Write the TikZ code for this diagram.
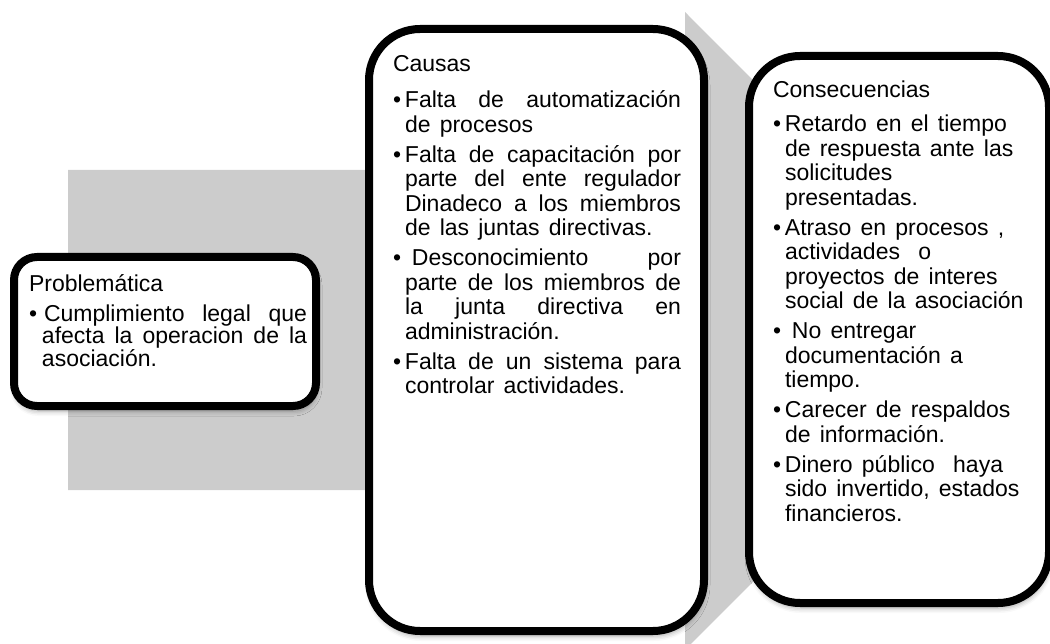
\documentclass[tikz,border=0pt]{standalone}
\usepackage{fontspec}
\setmainfont{Liberation Sans}
\usetikzlibrary{shapes,positioning,shadows.blur}
\definecolor{arrowgray}{RGB}{204,204,204}
\tikzstyle{whitebox}=[rectangle, draw, line width=8pt, fill=white, inner sep=0pt, blur shadow={shadow xshift=1pt, shadow yshift=-5pt, shadow blur radius=5pt, shadow opacity=35}]
\tikzstyle{boxtext}=[anchor=base west, inner sep=0pt, outer sep=0pt, align=justify]
\newcommand{\bul}{\hangindent=12pt\hangafter=1\makebox[12pt][l]{\textbullet}}
\newcommand{\boxfont}{\fontsize{23}{24.5}\selectfont\parskip=5.5pt\spaceskip=0.4em plus 0.5em minus 0.05em\tolerance=10000\hyphenpenalty=10000\exhyphenpenalty=10000}

\begin{document}
\begin{tikzpicture}[x=1pt,y=-1pt]
\useasboundingbox (0,0) rectangle (1050,644);

\fill[arrowgray] (68,170) -- (685,170) -- (685,12) -- (1003,331) -- (685,650) -- (685,490) -- (68,490) -- cycle;

\node[whitebox, rounded corners=23pt, minimum width=302pt, minimum height=149pt](p1) at (165,331.5) {};
\node[whitebox, rounded corners=51pt, minimum width=335pt, minimum height=602pt](p2) at (536.5,330) {};
\node[whitebox, rounded corners=51pt, minimum width=300pt, minimum height=547pt](p3) at (899,329.5) {};

\node[boxtext, text width=278pt](t1) at (29,292) {\boxfont\parskip=7pt\baselineskip=22.5pt
Problemática\par
\hangindent=13pt\hangafter=1 \textbullet\hspace{7pt}Cumplimiento legal que\linebreak afecta la operacion de la\linebreak asociación.\par};

\node[boxtext, text width=288pt](t2) at (393,72) {\boxfont
Causas\par\vspace{6pt}
\bul Falta de automatización\linebreak de procesos\par
\bul Falta de capacitación por\linebreak parte del ente regulador\linebreak Dinadeco a los miembros\linebreak de las juntas directivas.\par
\bul\hspace{7pt}Desconocimiento por\linebreak parte de los miembros de\linebreak la junta directiva en\linebreak administración.\par
\bul Falta de un sistema para\linebreak controlar actividades.\par};

\node[boxtext, align=left, text width=262pt](t3) at (773,98) {\boxfont
Consecuencias\par\vspace{4pt}
\bul Retardo en el tiempo\newline de respuesta ante las\newline solicitudes\newline presentadas.\par
\bul Atraso en procesos ,\newline actividades \ o\newline proyectos de interes\newline social de la asociación\par
\bul\hspace{7pt}No entregar\newline documentación a\newline tiempo.\par
\bul Carecer de respaldos\newline de información.\par
\bul Dinero público \ haya\newline sido invertido, estados\newline financieros.\par};

\end{tikzpicture}
\end{document}
